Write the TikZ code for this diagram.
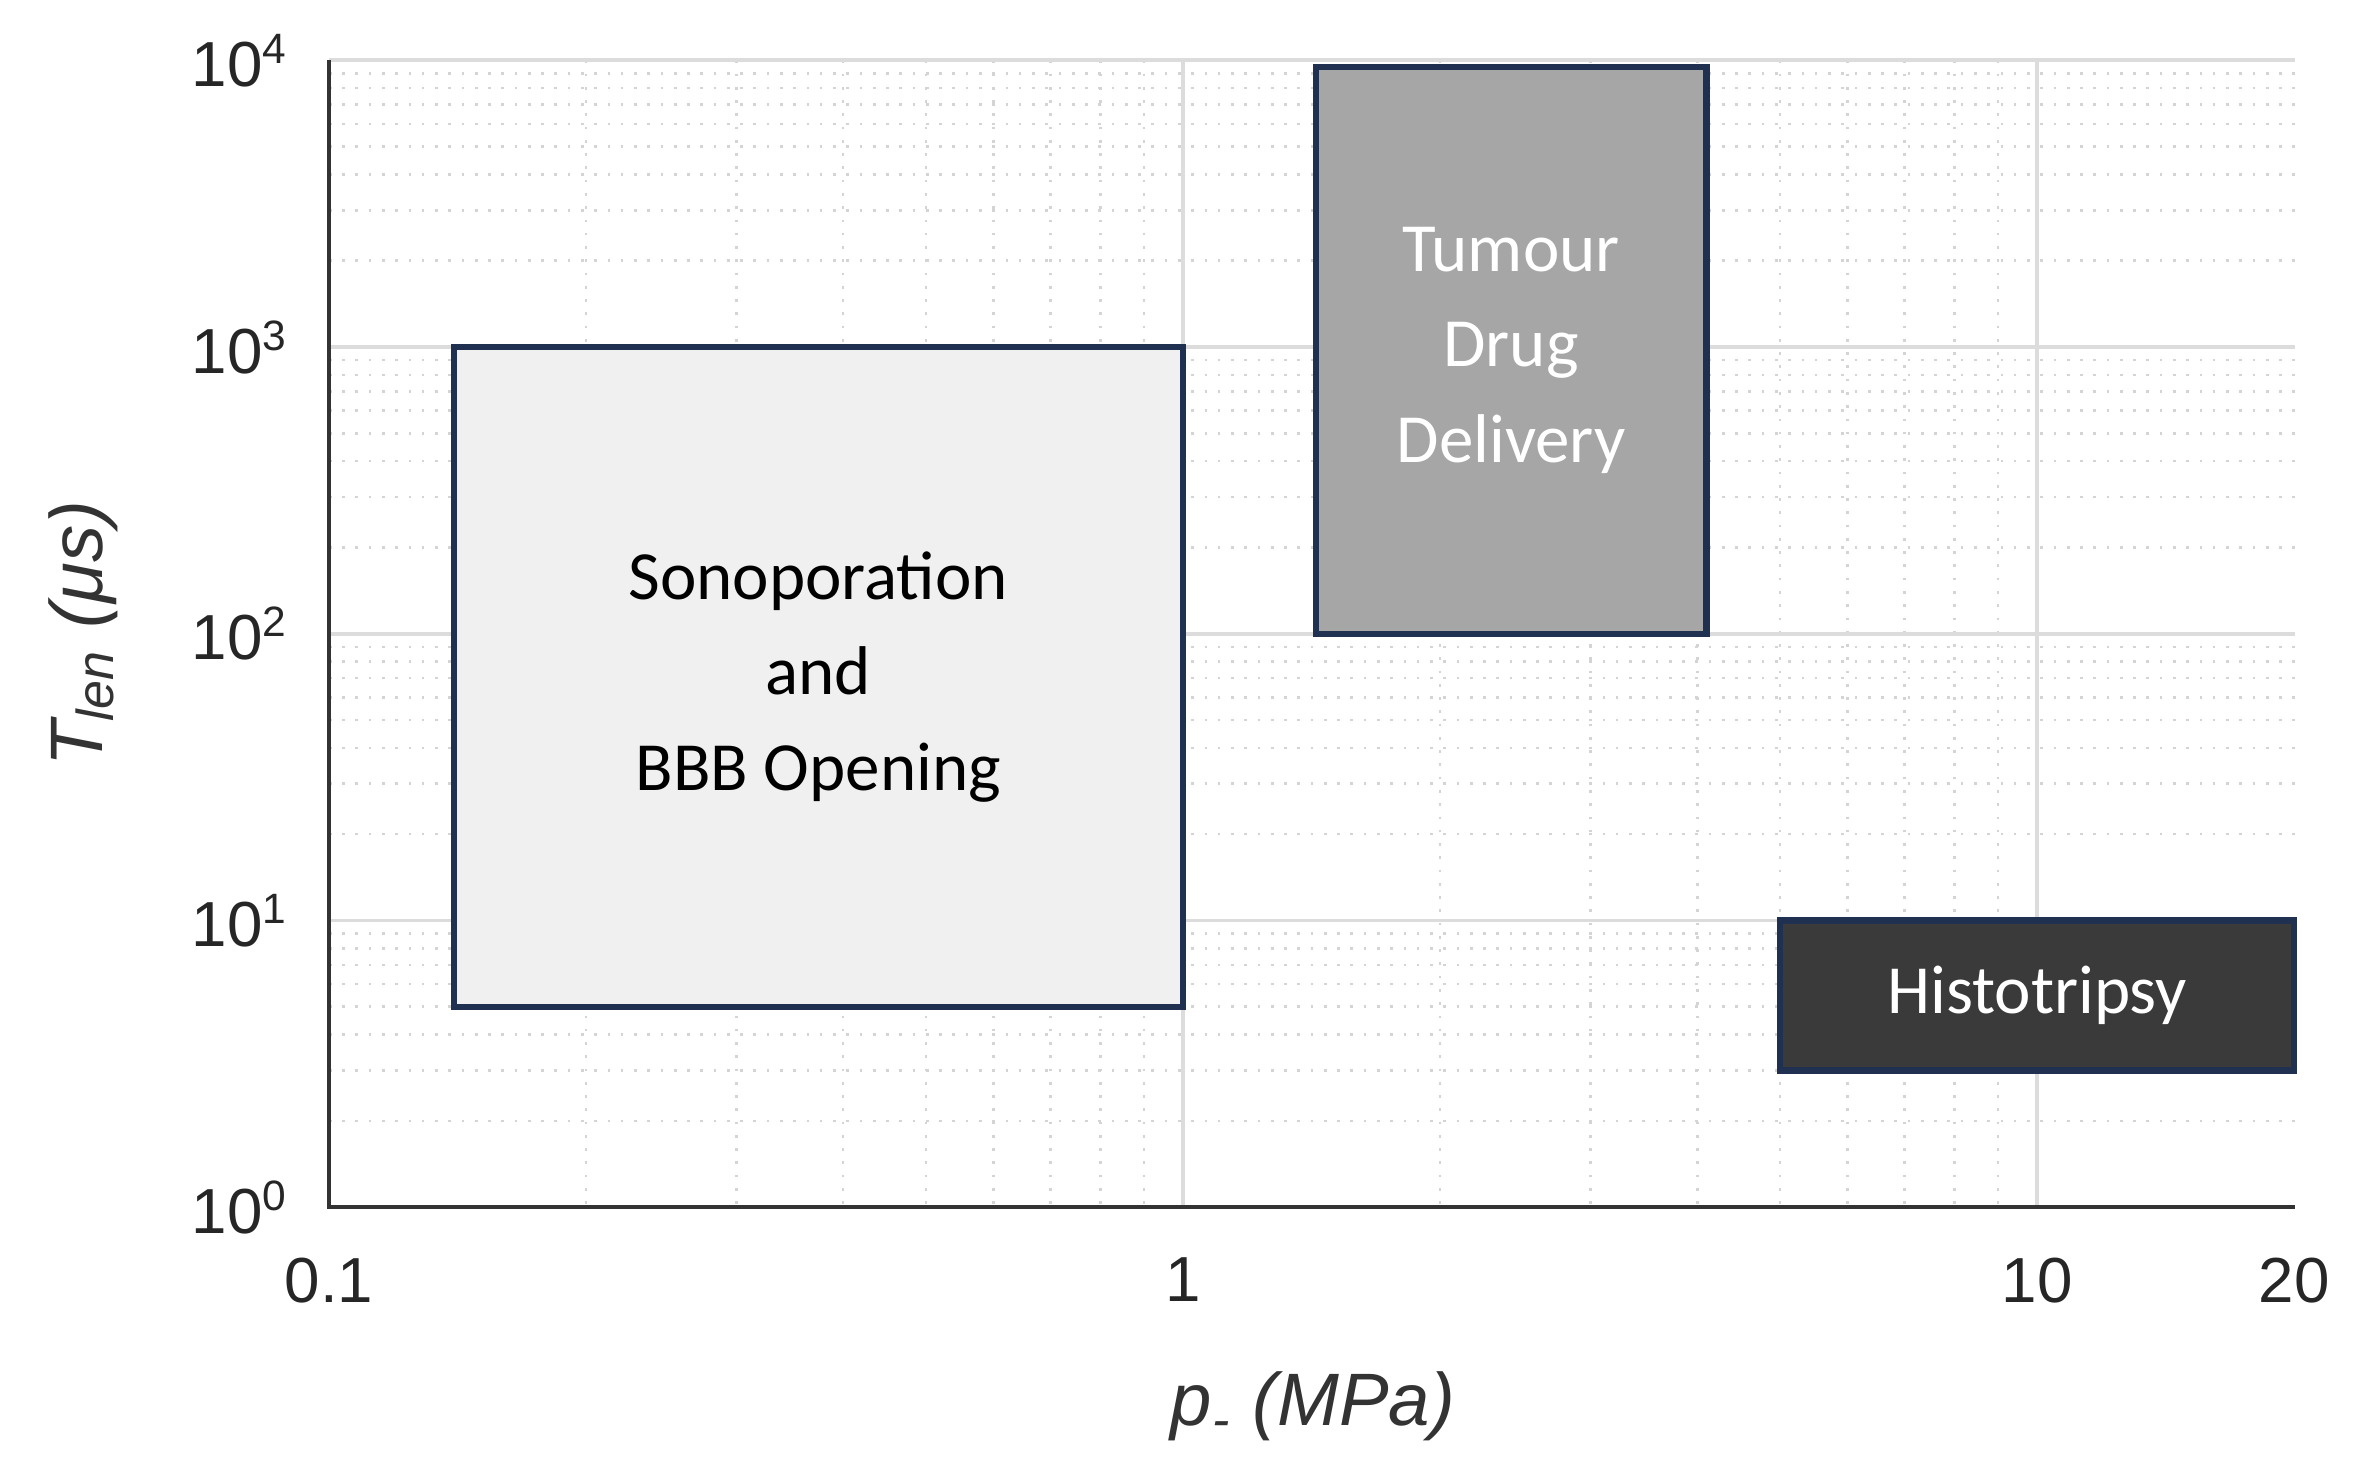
\documentclass[tikz,border=0pt]{standalone}
\usepackage{fontspec}
\setmainfont{Liberation Sans}
\newfontfamily\boxfont{Carlito}
\usetikzlibrary{positioning, calc}
\definecolor{GridMajor}{HTML}{DCDCDC}
\definecolor{GridMinor}{HTML}{D4D4D4}
\definecolor{BoxEdge}{HTML}{1F3050}
\definecolor{SonoFill}{HTML}{F0F0F0}
\definecolor{TumFill}{HTML}{A6A6A6}
\definecolor{HistFill}{HTML}{3A3A3A}
\tikzset{
    minorgrid/.style={GridMinor, line width=0.5pt, dotted},
    majorgrid/.style={GridMajor, line width=0.7pt},
    region/.style={draw=BoxEdge, line width=1.2pt},
    ticklabel/.style={font=\fontsize{12}{14}\selectfont, text=black!85},
    boxlabel/.style={font=\boxfont\fontsize{13}{18}\selectfont, align=center}
}
\begin{document}
\begin{tikzpicture}[x=0.01cm, y=-0.01cm,
    declare function={px(\p)=218+566*log10(\p/0.1); py(\t)=800-190*log10(\t);}]
    \useasboundingbox (0,0) rectangle (1560,980);
    \fill[white] (0,0) rectangle (1560,980);

    % grid
    \foreach \v in {0.2,0.3,0.4,0.5,0.6,0.7,0.8,0.9,2,3,4,5,6,7,8,9} {
        \draw[minorgrid] ({px(\v)},40) -- ({px(\v)},800);
    }
    \foreach \d in {1,10,100,1000} {
        \foreach \k in {2,...,9} {
            \draw[minorgrid] (218,{py(\d*\k)}) -- (1521,{py(\d*\k)});
        }
    }
    \foreach \v in {1,10} {
        \draw[majorgrid] ({px(\v)},40) -- ({px(\v)},800);
    }
    \foreach \e in {1,2,3,4} {
        \draw[majorgrid] (218,{py(10^\e)}) -- (1521,{py(10^\e)});
    }

    % regions
    \coordinate (sono-sw) at ({px(0.14)},{py(5)});
    \coordinate (sono-ne) at ({px(1)},{py(1000)});
    \coordinate (tum-sw) at ({px(1.43)},{py(100)});
    \coordinate (tum-ne) at ({px(4.1)},{py(9500)});
    \coordinate (hist-sw) at ({px(5)},{py(3)});
    \coordinate (hist-ne) at ({px(20)},{py(10)});
    \draw[region, fill=SonoFill] (sono-sw) rectangle (sono-ne);
    \draw[region, fill=TumFill] (tum-sw) rectangle (tum-ne);
    \draw[region, fill=HistFill] (hist-sw) rectangle (hist-ne);
    \node[boxlabel] (sono) at ($(sono-sw)!0.5!(sono-ne)$) {Sonoporation\\and\\BBB Opening};
    \node[boxlabel, text=white] (tum) at ($(tum-sw)!0.5!(tum-ne)$) {Tumour\\Drug\\Delivery};
    \node[boxlabel, text=white] (hist) at ($(hist-sw)!0.5!(hist-ne)$) {Histotripsy};

    % axes
    \draw[black!80, line width=0.8pt] (218,40) -- (218,800) -- (1521,800);
    \foreach \v/\t in {0.1/0.1,1/1,10/10,20/20} {
        \node[ticklabel, below=6pt] (xt-\t) at ({px(\v)},800) {\t};
    }
    \foreach \e in {0,1,2,3,4} {
        \node[ticklabel, left=4pt] (yt-\e) at (218,{py(10^\e)}) {10\textsuperscript{\e}};
    }
    \node[font=\itshape\fontsize{14}{16}\selectfont, text=black!80] (xlab) at (870,932) {p\textsubscript{-} (MPa)};
    \node[font=\itshape\fontsize{14}{16}\selectfont, text=black!80, rotate=90] (ylab) at (55,420) {T\textsubscript{len} (μs)};
\end{tikzpicture}
\end{document}
